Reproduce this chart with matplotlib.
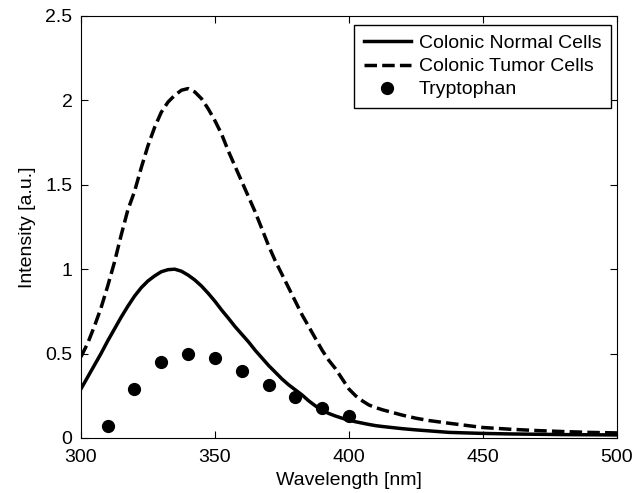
import numpy as np
import matplotlib
matplotlib.use("Agg")
import matplotlib.pyplot as plt

plt.rcParams['font.family'] = ['Liberation Sans', 'DejaVu Sans']

# spectra
wl = [300, 302.5, 305, 307.5, 310, 312.5, 315, 317.5, 320, 322.5, 325, 327.5,
      330, 332.5, 335, 337.5, 340, 342.5, 345, 347.5, 350, 352.5, 355, 357.5,
      360, 362.5, 365, 367.5, 370, 372.5, 375, 377.5, 380, 382.5, 385, 387.5,
      390, 392.5, 395, 397.5, 400, 402.5, 405, 407.5, 410, 412.5, 420, 425,
      430, 437.5, 450, 460, 470, 480, 490, 500]
normal = [0.29, 0.36, 0.43, 0.50, 0.575, 0.645, 0.715, 0.78, 0.84, 0.89, 0.93, 0.96,
          0.985, 0.997, 1.0, 0.988, 0.965, 0.936, 0.90, 0.857, 0.81, 0.758, 0.71, 0.66,
          0.615, 0.57, 0.52, 0.475, 0.43, 0.39, 0.35, 0.315, 0.285, 0.255, 0.22, 0.19,
          0.165, 0.145, 0.13, 0.117, 0.105, 0.096, 0.088, 0.08, 0.073, 0.068, 0.055, 0.048,
          0.042, 0.033, 0.027, 0.024, 0.022, 0.020, 0.019, 0.018]
tumor = [0.48, 0.56, 0.66, 0.77, 0.90, 1.04, 1.20, 1.35, 1.46, 1.60, 1.73, 1.84,
         1.93, 1.99, 2.03, 2.06, 2.07, 2.05, 2.01, 1.95, 1.88, 1.80, 1.70, 1.61,
         1.52, 1.43, 1.34, 1.24, 1.14, 1.05, 0.97, 0.89, 0.81, 0.73, 0.66, 0.59,
         0.52, 0.46, 0.41, 0.35, 0.29, 0.25, 0.22, 0.195, 0.18, 0.167, 0.135, 0.117,
         0.103, 0.087, 0.062, 0.052, 0.044, 0.038, 0.033, 0.030]

trp_wl = [310, 320, 330, 340, 350, 360, 370, 380, 390, 400]
trp = [0.073, 0.288, 0.45, 0.50, 0.476, 0.395, 0.314, 0.245, 0.176, 0.132]

fig = plt.figure(figsize=(6.42, 4.93), dpi=100)
ax = fig.add_axes([0.126, 0.1116, 0.835, 0.856])

ax.plot(wl, normal, 'k-', lw=2.5, label="Colonic Normal Cells")
ax.plot(wl, tumor, 'k--', lw=2.5, dashes=(3.6, 1.5), label="Colonic Tumor Cells")
ax.plot(trp_wl, trp, 'ko', ms=8.5, label="Tryptophan")

ax.set_xlim(300, 500)
ax.set_ylim(0, 2.5)
ax.set_xticks([300, 350, 400, 450, 500])
ax.set_yticks([0, 0.5, 1, 1.5, 2, 2.5])
ax.set_yticklabels(["0", "0.5", "1", "1.5", "2", "2.5"])
ax.tick_params(direction='in', top=True, right=True, length=5, labelsize=14)
ax.tick_params(axis='x', pad=8)
ax.tick_params(axis='y', pad=6)
ax.set_xlabel("Wavelength [nm]", fontsize=14, labelpad=4)
ax.set_ylabel("Intensity [a.u.]", fontsize=14, labelpad=6.5)

leg = ax.legend(loc="upper right", bbox_to_anchor=(0.9888, 0.9787), fontsize=14,
                handlelength=2.42, labelspacing=0.28, borderaxespad=0,
                fancybox=False, framealpha=1, borderpad=0.5, handletextpad=0.41)
leg.get_frame().set_edgecolor('k')
leg.get_frame().set_linewidth(1)

fig.savefig("out.png", dpi=100)
